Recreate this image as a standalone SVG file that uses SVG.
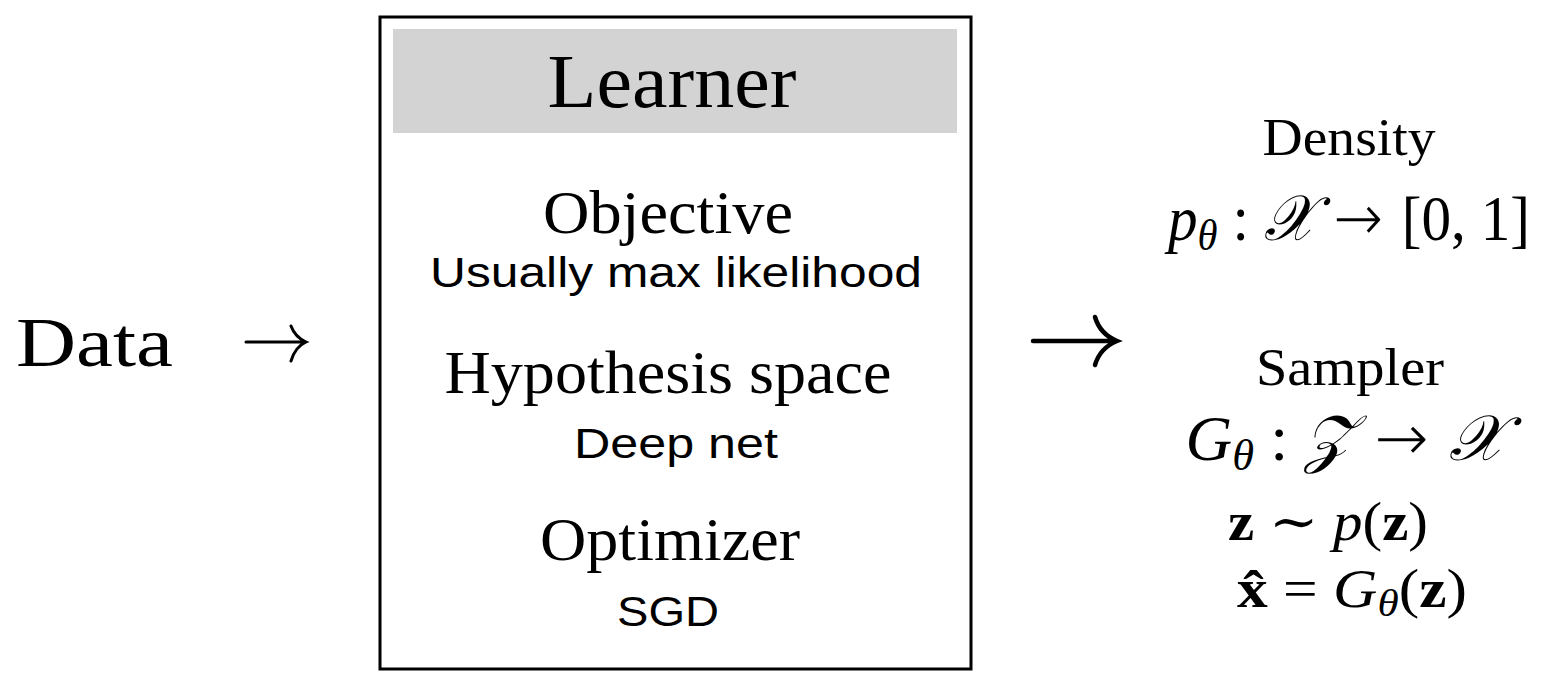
<svg xmlns="http://www.w3.org/2000/svg" width="1546" height="687" viewBox="0 0 1546 687">
<style>
.rm{font-family:"Liberation Serif","DejaVu Serif",serif;fill:#000}
.sf{font-family:"Liberation Sans","Helvetica",Arial,sans-serif;fill:#000}
.it{font-style:italic}
.bf{font-weight:bold}
.cal{font-family:"DejaVu Serif","Liberation Serif",serif;font-style:italic}
.ar{font-family:"DejaVu Sans",sans-serif;font-weight:200}
.arr{fill:none;stroke:#000;stroke-linecap:round}
</style>
<rect width="1546" height="687" fill="#fff"/>
<g id="data">
<text class="rm" x="16" y="366" font-size="70" textLength="157" lengthAdjust="spacingAndGlyphs">Data</text>
</g>
<g id="learner">
<rect x="380" y="17" width="591" height="652" fill="#fff" stroke="#000" stroke-width="3"/>
<rect x="393" y="29" width="564" height="104" fill="#d3d3d3"/>
<text class="rm" x="672" y="107" font-size="76" text-anchor="middle" textLength="249" lengthAdjust="spacingAndGlyphs">Learner</text>
<text class="rm" x="668" y="233" font-size="62" text-anchor="middle" textLength="250" lengthAdjust="spacingAndGlyphs">Objective</text>
<text class="sf" x="676" y="287" font-size="42" text-anchor="middle" textLength="492" lengthAdjust="spacingAndGlyphs">Usually max likelihood</text>
<text class="rm" x="668" y="393" font-size="62" text-anchor="middle" textLength="447" lengthAdjust="spacingAndGlyphs">Hypothesis space</text>
<text class="sf" x="676" y="458" font-size="42" text-anchor="middle" textLength="204" lengthAdjust="spacingAndGlyphs">Deep net</text>
<text class="rm" x="670" y="560" font-size="62" text-anchor="middle" textLength="260" lengthAdjust="spacingAndGlyphs">Optimizer</text>
<text class="sf" x="668" y="626" font-size="42" text-anchor="middle" textLength="102" lengthAdjust="spacingAndGlyphs">SGD</text>
</g>
<g id="density">
<text class="rm" x="1349" y="155" font-size="52" text-anchor="middle" textLength="173" lengthAdjust="spacingAndGlyphs">Density</text>
<text class="rm" x="1349" y="240" font-size="64" text-anchor="middle" textLength="362" lengthAdjust="spacingAndGlyphs"><tspan class="it">p</tspan><tspan class="it" font-size="44" dy="10">θ</tspan><tspan dy="-10">&#160;:&#160;</tspan><tspan class="cal">𝒳</tspan><tspan class="ar">&#160;→&#160;</tspan><tspan>[0,&#160;1]</tspan></text>
</g>
<g id="sampler">
<text class="rm" x="1350" y="385" font-size="52" text-anchor="middle" textLength="188" lengthAdjust="spacingAndGlyphs">Sampler</text>
<text class="rm" x="1345" y="460" font-size="64" text-anchor="middle" textLength="319" lengthAdjust="spacingAndGlyphs"><tspan class="it">G</tspan><tspan class="it" font-size="44" dy="10">θ</tspan><tspan dy="-10">&#160;:&#160;</tspan><tspan class="cal">𝒵</tspan><tspan class="ar">&#160;→&#160;</tspan><tspan class="cal">𝒳</tspan></text>
<text class="rm" x="1328" y="540" font-size="54" text-anchor="middle" textLength="200" lengthAdjust="spacingAndGlyphs"><tspan class="bf">z</tspan><tspan>&#160;∼&#160;</tspan><tspan class="it">p</tspan><tspan>(</tspan><tspan class="bf">z</tspan><tspan>)</tspan></text>
<text class="rm" x="1352" y="607" font-size="54" text-anchor="middle" textLength="230" lengthAdjust="spacingAndGlyphs"><tspan class="bf">x̂</tspan><tspan>&#160;=&#160;</tspan><tspan class="it">G</tspan><tspan class="it" font-size="38" dy="9">θ</tspan><tspan dy="-9">(</tspan><tspan class="bf">z</tspan><tspan>)</tspan></text>
</g>
<g id="connectors">
<path class="arr" stroke-width="3" d="M246,342 H306 M291,326 Q295,337 306,342 Q295,347 291,361"/>
<path class="arr" stroke-width="4.5" d="M1033,341 H1116 M1095,317 Q1100,334 1117,341 Q1100,348 1095,365"/>
</g>
</svg>
